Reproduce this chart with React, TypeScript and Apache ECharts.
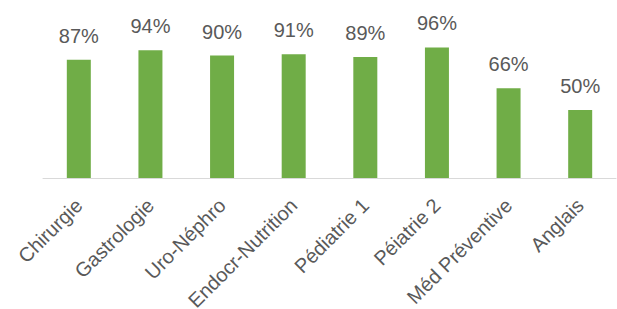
import React, { useEffect, useRef } from "react";
import * as echarts from "echarts";

const categories = ["Chirurgie", "Gastrologie", "Uro-Néphro", "Endocr-Nutrition", "Pédiatrie 1", "Péiatrie 2", "Méd Préventive", "Anglais"];
const values = [87, 94, 90, 91, 89, 96, 66, 50];

export default function App() {
  const ref = useRef<HTMLDivElement>(null);
  useEffect(() => {
    if (!ref.current) return;
    const chart = echarts.init(ref.current, null, { renderer: "svg" });
    chart.setOption({
      animation: false,
      backgroundColor: "#ffffff",
      grid: { left: 43, right: 1, top: 42, bottom: 131, containLabel: false, outerBoundsMode: "none" },
      xAxis: {
        type: "category",
        data: categories,
        axisLine: { show: true, lineStyle: { color: "#d9d9d9", width: 1 } },
        axisTick: { show: false },
        axisLabel: {
          rotate: 45,
          interval: 0,
          margin: 24,
          color: "#595959",
          fontSize: 20,
          fontFamily: "Liberation Sans, Arial, sans-serif",
        },
      },
      yAxis: {
        type: "value",
        min: 0,
        max: 100,
        show: false,
        splitLine: { show: false },
      },
      series: [
        {
          type: "bar",
          data: values,
          barWidth: 24,
          itemStyle: { color: "#70ad47" },
          label: {
            show: true,
            position: "top",
            distance: 14,
            formatter: "{c}%",
            color: "#595959",
            fontSize: 20,
            fontFamily: "Liberation Sans, Arial, sans-serif",
          },
        },
      ],
    });
    return () => chart.dispose();
  }, []);
  return <div ref={ref} style={{ position: "fixed", left: 0, top: 0, width: 617, height: 309 }} />;
}
